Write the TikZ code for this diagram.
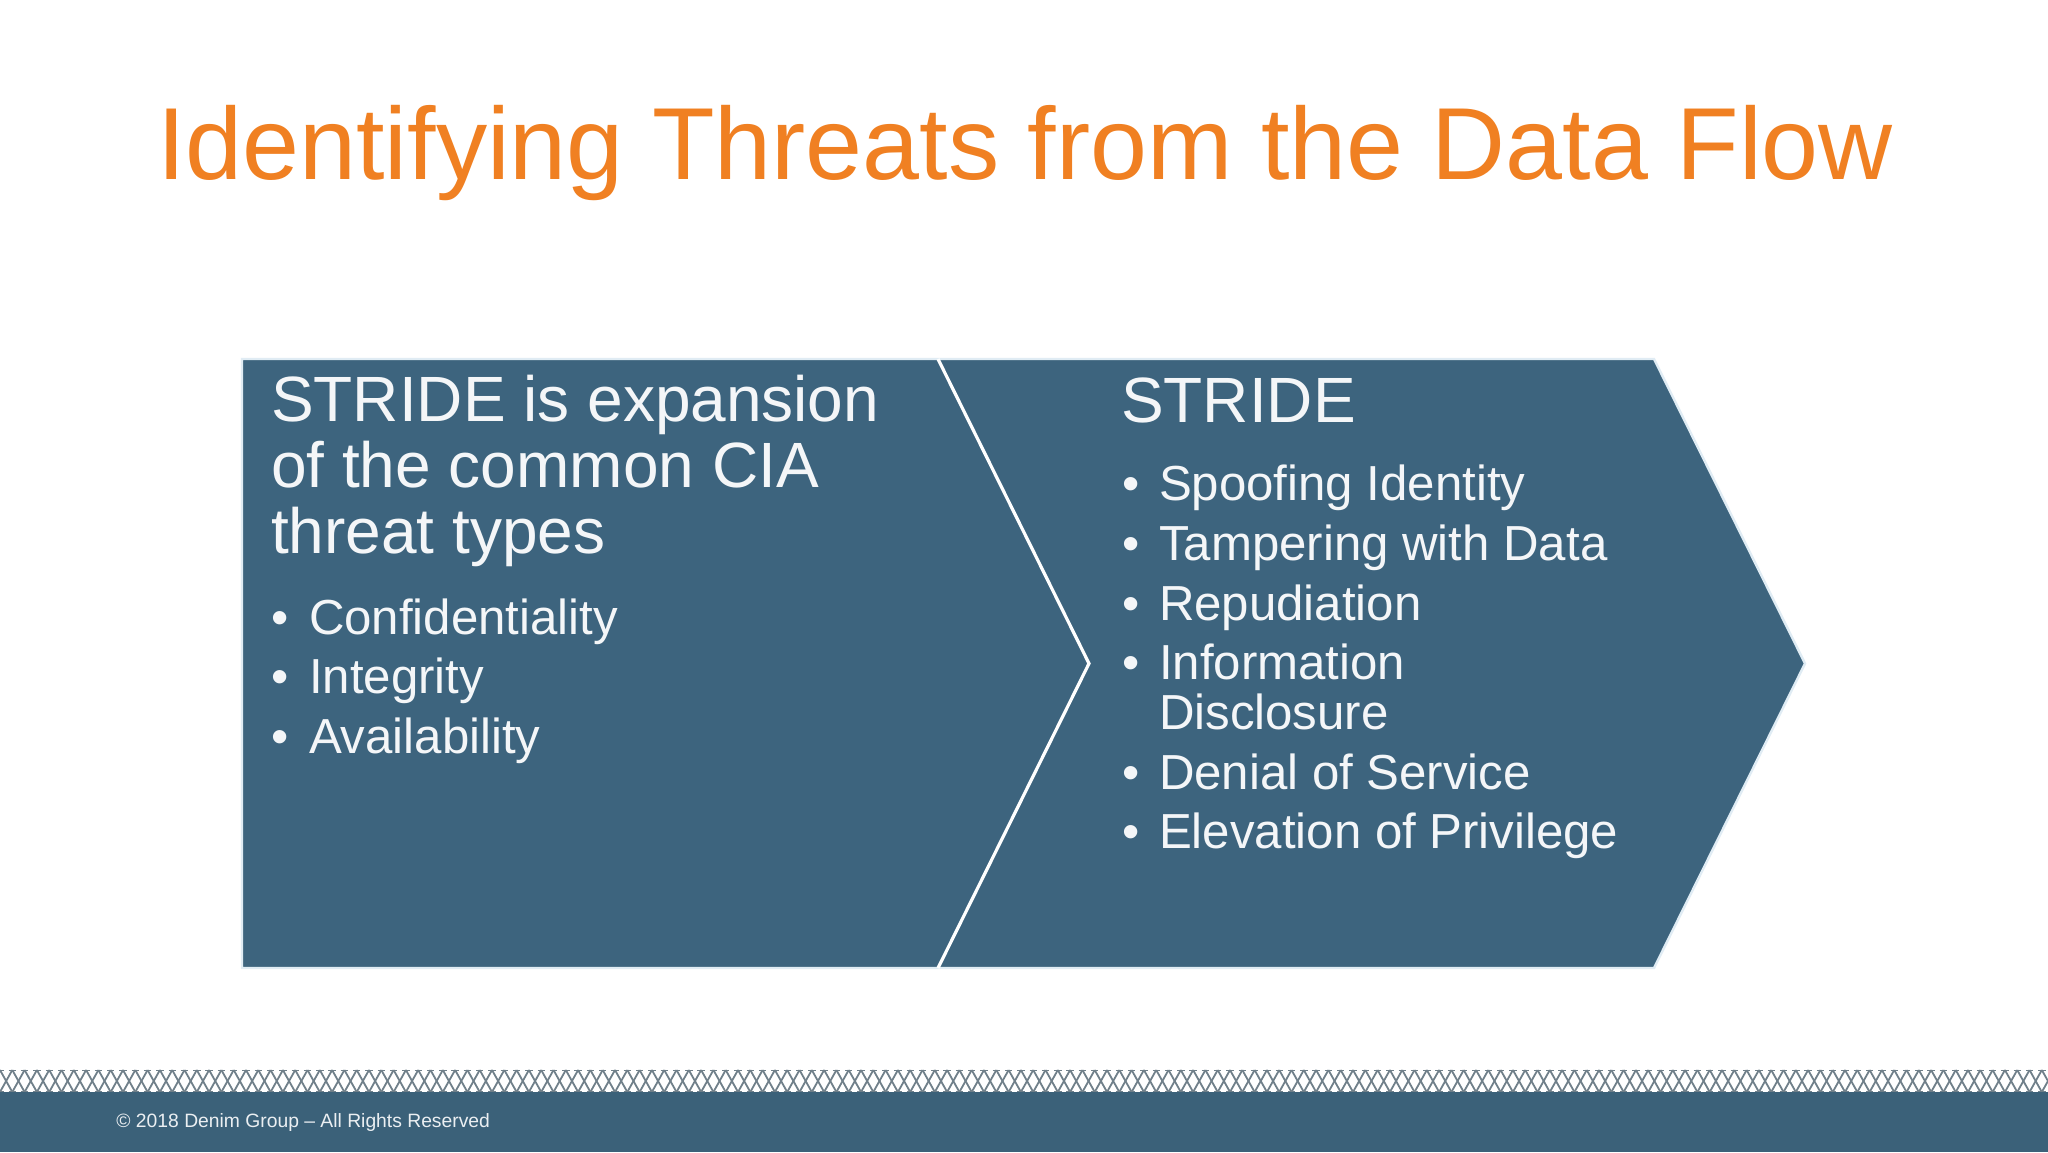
\documentclass[tikz,border=0pt]{standalone}
\usepackage{fontspec}
\setmainfont{Liberation Sans}
\definecolor{slate}{RGB}{61,100,126}
\definecolor{band}{RGB}{59,97,121}
\definecolor{titleorange}{RGB}{240,128,34}
\definecolor{pat}{RGB}{112,128,138}
\definecolor{rim}{RGB}{224,236,244}
\definecolor{txt}{RGB}{244,246,248}
\begin{document}
\begin{tikzpicture}[x=0.5pt,y=-0.5pt,
  txtbase/.style={inner sep=0pt, outer sep=0pt, anchor=base west, text=txt},
  headline/.style={txtbase, font=\fontsize{32}{33}\selectfont},
  bulletline/.style={txtbase, font=\fontsize{24.6}{25.4}\selectfont},
  dot/.style={bulletline},
  panel/.style={fill=slate, draw=rim, line width=1.2pt, line join=miter},
  patline/.style={draw=pat, line width=0.9pt}]
\useasboundingbox[fill=white] (0,0) rectangle (2048,1152);

% title
\node[inner sep=0pt, anchor=base, text=titleorange, font=\fontsize{51.2}{53}\selectfont] (title) at (1025,179) {Identifying Threats from the Data Flow};

% panels
\coordinate (lt) at (242,359);
\coordinate (lb) at (242,968);
\coordinate (mt) at (938,359);
\coordinate (mb) at (938,968);
\coordinate (notch) at (1089,663.5);
\coordinate (rt) at (1654,359);
\coordinate (rb) at (1654,968);
\coordinate (tip) at (1805,663.5);
\path[panel] (lt) -- (mt) -- (rt) -- (tip) -- (rb) -- (mb) -- (lb) -- cycle;
\draw[white, line width=1.6pt, line join=miter] (mt) -- (notch) -- (mb);

% left text
\node[headline] (lh1) at (271,421.5) {STRIDE is expansion};
\node[headline] (lh2) at (271,487.5) {of the common CIA};
\node[headline] (lh3) at (271,553.5) {threat types};
\node[dot] (ld1) at (271,634) {•};
\node[bulletline] (lb1) at (309,634) {Confidentiality};
\node[dot] (ld2) at (271,693.5) {•};
\node[bulletline] (lb2) at (309,693.5) {Integrity};
\node[dot] (ld3) at (271,753) {•};
\node[bulletline] (lb3) at (309,753) {Availability};

% right text
\node[headline] (rh1) at (1121,422) {STRIDE};
\node[dot] (rd1) at (1122,500.7) {•};
\node[bulletline] (rb1) at (1159,500.7) {Spoofing Identity};
\node[dot] (rd2) at (1122,560) {•};
\node[bulletline] (rb2) at (1159,560) {Tampering with Data};
\node[dot] (rd3) at (1122,620.5) {•};
\node[bulletline] (rb3) at (1159,620.5) {Repudiation};
\node[dot] (rd4) at (1122,679.5) {•};
\node[bulletline] (rb4) at (1159,679.5) {Information};
\node[bulletline] (rb4b) at (1159,729.3) {Disclosure};
\node[dot] (rd5) at (1122,789.3) {•};
\node[bulletline] (rb5) at (1159,789.3) {Denial of Service};
\node[dot] (rd6) at (1122,848.3) {•};
\node[bulletline] (rb6) at (1159,848.3) {Elevation of Privilege};

% footer pattern
\foreach \i in {0,...,166} {
  \draw[patline] (\i*12.3,1070) -- (\i*12.3+12.3,1092);
  \draw[patline] (\i*12.3+12.3,1070) -- (\i*12.3,1092);
}
\draw[patline, dash pattern=on 3.7pt off 2.45pt, dash phase=1.85pt] (0,1070.5) -- (2048,1070.5);
\draw[patline, dash pattern=on 3.7pt off 2.45pt, dash phase=1.85pt] (0,1091.5) -- (2048,1091.5);

% footer band
\fill[band] (0,1092) rectangle (2048,1152);
\node[inner sep=0pt, anchor=base west, text=txt!95!slate, font=\fontsize{9.65}{11}\selectfont] (foot) at (116,1127.3) {© 2018 Denim Group – All Rights Reserved};
\end{tikzpicture}
\end{document}
